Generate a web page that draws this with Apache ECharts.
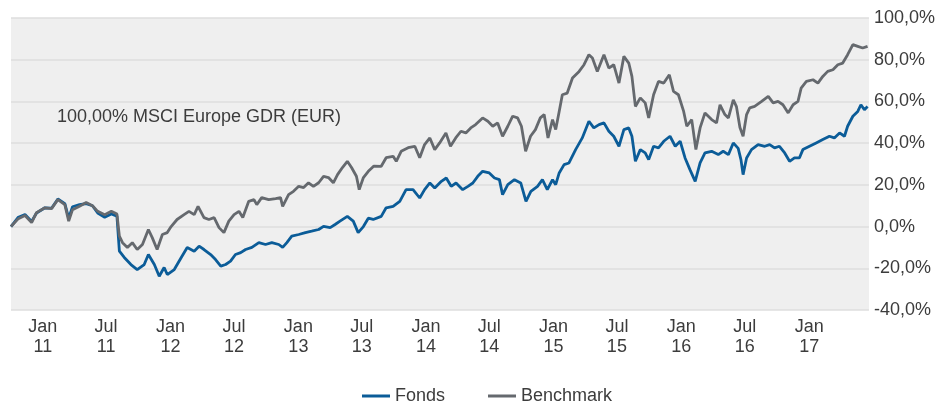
<!DOCTYPE html>
<html>
<head>
<meta charset="utf-8">
<script src="https://cdn.jsdelivr.net/npm/echarts@6/dist/echarts.min.js"></script>
<style>
  html, body { margin: 0; padding: 0; background: #ffffff; }
  #chart { width: 938px; height: 403px; }
</style>
</head>
<body>
<div id="chart"></div>
<script>
// Cumulative performance in percent, Fonds vs. Benchmark
const fondsDates = [
  '2010-10-02','2010-10-23','2010-11-11','2010-11-30','2010-12-14','2011-01-07','2011-01-26','2011-02-13',
  '2011-03-05','2011-03-16','2011-03-27','2011-04-16','2011-05-05','2011-05-23','2011-06-07','2011-06-27',
  '2011-07-16','2011-08-01','2011-08-08','2011-08-22','2011-09-10','2011-09-28','2011-10-18','2011-10-30',
  '2011-11-16','2011-11-30','2011-12-14','2011-12-23','2012-01-12','2012-02-01','2012-02-18','2012-02-23',
  '2012-03-09','2012-03-23','2012-04-06','2012-04-25','2012-05-09','2012-05-24','2012-06-07','2012-06-21',
  '2012-07-05','2012-07-20','2012-08-03','2012-08-21','2012-09-10','2012-09-29','2012-10-17','2012-11-06',
  '2012-11-17','2012-11-29','2012-12-13','2013-01-02','2013-01-21','2013-02-08','2013-02-28','2013-03-14',
  '2013-04-02','2013-04-16','2013-04-30','2013-05-21','2013-06-07','2013-06-21','2013-07-06','2013-07-20',
  '2013-08-03','2013-08-26','2013-09-09','2013-09-29','2013-10-18','2013-11-05','2013-11-25','2013-12-14',
  '2013-12-28','2014-01-12','2014-01-26','2014-02-14','2014-02-28','2014-03-14','2014-03-28','2014-04-16',
  '2014-05-01','2014-05-15','2014-05-29','2014-06-12','2014-07-01','2014-07-16','2014-07-30','2014-08-08',
  '2014-08-23','2014-09-11','2014-09-29','2014-10-14','2014-10-28','2014-11-16','2014-11-30','2014-12-14',
  '2014-12-29','2015-01-07','2015-01-17','2015-01-31','2015-02-14','2015-03-05','2015-03-24','2015-04-12',
  '2015-04-26','2015-05-11','2015-05-25','2015-06-08','2015-06-22','2015-07-07','2015-07-21','2015-08-04',
  '2015-08-13','2015-08-23','2015-09-06','2015-09-20','2015-09-30','2015-10-14','2015-10-28','2015-11-12',
  '2015-11-30','2015-12-15','2015-12-29','2016-01-12','2016-01-26','2016-02-10','2016-02-24','2016-03-09',
  '2016-03-28','2016-04-16','2016-04-30','2016-05-15','2016-05-29','2016-06-12','2016-06-20','2016-06-26',
  '2016-07-06','2016-07-20','2016-08-08','2016-08-27','2016-09-10','2016-09-24','2016-10-08','2016-10-23',
  '2016-11-06','2016-11-20','2016-12-04','2016-12-14','2017-01-02','2017-01-21','2017-02-09','2017-02-28',
  '2017-03-14','2017-03-29','2017-04-12','2017-04-21','2017-05-06','2017-05-20','2017-05-29','2017-06-08',
  '2017-06-17'
];
const fondsValues = [
  0.0, 4.5, 5.8, 2.5, 6.5, 9.0, 8.8, 13.2,
  11.0, 4.0, 9.5, 10.5, 11.0, 10.0, 6.5, 4.5,
  6.0, 5.0, -11.8, -14.8, -18.2, -20.6, -18.2, -13.4,
  -18.2, -23.8, -19.6, -23.0, -20.6, -14.8, -10.0, -9.4,
  -11.8, -9.4, -11.0, -13.4, -15.8, -19.0, -18.2, -16.6,
  -13.4, -12.5, -11.0, -10.0, -7.7, -8.6, -7.7, -8.6,
  -10.0, -7.7, -4.6, -3.8, -2.9, -2.2, -1.4, 0.1,
  -0.5, 1.0, 2.6, 4.9, 2.6, -2.9, 0.0, 4.0,
  3.4, 4.9, 9.0, 9.7, 12.1, 17.7, 17.7, 13.7,
  17.7, 20.9, 18.5, 21.7, 23.3, 19.3, 20.9, 17.7,
  19.3, 20.9, 24.1, 26.5, 25.7, 23.3, 22.5, 15.3,
  20.1, 22.5, 20.9, 12.1, 16.9, 19.3, 22.5, 17.7,
  22.5, 20.1, 25.7, 29.7, 30.5, 36.9, 42.5, 50.5,
  47.3, 48.9, 49.7, 45.7, 43.3, 38.5, 46.5, 47.3,
  43.3, 31.3, 36.9, 35.3, 32.1, 38.5, 37.7, 40.9,
  43.3, 38.5, 40.9, 32.9, 27.3, 21.7, 30.5, 35.3,
  36.1, 34.5, 36.1, 34.5, 40.1, 37.5, 32.0, 24.9,
  32.9, 36.9, 39.3, 38.5, 39.3, 37.7, 38.5, 35.3,
  31.3, 32.9, 32.9, 36.9, 38.5, 40.1, 41.7, 43.3,
  42.5, 44.9, 43.3, 48.1, 52.9, 55.2, 58.4, 56.0,
  57.6
];

const benchDates = [
  '2010-10-02','2010-10-23','2010-11-11','2010-11-30','2010-12-14','2011-01-07','2011-01-26','2011-02-13',
  '2011-03-05','2011-03-16','2011-03-27','2011-04-16','2011-05-05','2011-05-23','2011-06-07','2011-06-27',
  '2011-07-16','2011-08-01','2011-08-08','2011-08-17','2011-08-31','2011-09-14','2011-09-28','2011-10-13',
  '2011-10-30','2011-11-10','2011-11-24','2011-12-09','2011-12-23','2012-01-03','2012-01-20','2012-02-09',
  '2012-02-23','2012-03-09','2012-03-20','2012-04-06','2012-04-20','2012-05-05','2012-05-19','2012-06-02',
  '2012-06-16','2012-07-01','2012-07-15','2012-07-26','2012-08-12','2012-08-27','2012-09-04','2012-09-18',
  '2012-10-08','2012-10-28','2012-11-11','2012-11-17','2012-12-04','2012-12-18','2013-01-02','2013-01-16',
  '2013-01-30','2013-02-13','2013-02-28','2013-03-14','2013-03-28','2013-04-11','2013-04-23','2013-05-07',
  '2013-05-21','2013-06-02','2013-06-16','2013-06-24','2013-07-06','2013-07-20','2013-08-05','2013-08-26',
  '2013-09-09','2013-09-29','2013-10-08','2013-10-22','2013-11-11','2013-11-30','2013-12-14','2013-12-28',
  '2014-01-12','2014-01-26','2014-02-09','2014-02-27','2014-03-12','2014-03-27','2014-04-11','2014-04-25',
  '2014-05-09','2014-05-23','2014-06-12','2014-06-27','2014-07-11','2014-07-25','2014-08-08','2014-08-23',
  '2014-09-06','2014-09-20','2014-10-01','2014-10-13','2014-10-27','2014-11-10','2014-11-24','2014-12-05',
  '2014-12-16','2014-12-29','2015-01-07','2015-01-17','2015-01-26','2015-02-09','2015-02-24','2015-03-15',
  '2015-03-29','2015-04-12','2015-04-22','2015-05-06','2015-05-25','2015-06-08','2015-06-22','2015-07-07',
  '2015-07-21','2015-08-04','2015-08-13','2015-08-23','2015-09-06','2015-09-20','2015-09-30','2015-10-14',
  '2015-10-28','2015-11-12','2015-11-28','2015-12-10','2015-12-24','2016-01-08','2016-01-17','2016-01-31',
  '2016-02-12','2016-02-24','2016-03-09','2016-03-28','2016-04-11','2016-04-21','2016-05-05','2016-05-15',
  '2016-05-29','2016-06-07','2016-06-17','2016-06-26','2016-07-06','2016-07-15','2016-07-29','2016-08-18',
  '2016-09-06','2016-09-20','2016-10-04','2016-10-18','2016-11-02','2016-11-16','2016-11-30','2016-12-09',
  '2016-12-24','2017-01-12','2017-01-26','2017-02-09','2017-02-23','2017-03-10','2017-03-24','2017-04-07',
  '2017-04-21','2017-05-06','2017-05-20','2017-06-03','2017-06-17'
];
const benchValues = [
  0.0, 3.8, 5.3, 1.9, 6.7, 9.0, 8.6, 12.9,
  10.5, 2.6, 8.1, 9.7, 11.5, 10.0, 7.3, 5.7,
  7.3, 6.0, -4.6, -7.7, -10.0, -7.7, -11.0, -8.6,
  -1.4, -5.3, -11.0, -3.8, -2.9, 0.0, 3.4, 5.7,
  7.3, 5.7, 9.7, 4.3, 3.4, 4.3, -0.5, -2.9,
  2.6, 5.7, 7.3, 4.3, 12.1, 12.9, 10.5, 13.9,
  12.9, 13.4, 13.9, 9.7, 15.3, 16.9, 19.3, 18.7,
  21.0, 19.3, 21.0, 24.1, 23.5, 21.0, 24.9, 28.3,
  31.3, 28.3, 24.1, 17.7, 23.5, 26.5, 29.0, 28.9,
  33.0, 33.7, 31.3, 36.1, 37.8, 38.5, 33.0, 39.3,
  42.5, 36.9, 40.1, 44.9, 38.5, 42.5, 45.7, 44.9,
  47.3, 48.9, 52.1, 50.5, 48.1, 49.7, 43.3, 48.1,
  52.9, 52.1, 48.1, 36.1, 43.3, 46.5, 52.1, 53.7,
  42.5, 51.3, 46.5, 55.2, 63.2, 64.0, 71.2, 74.4,
  77.6, 82.4, 80.8, 74.4, 82.4, 76.0, 77.6, 68.8,
  81.6, 78.4, 72.0, 57.6, 61.7, 59.3, 52.1, 63.2,
  69.6, 68.8, 72.8, 64.8, 63.2, 55.2, 48.1, 51.3,
  36.9, 47.3, 54.5, 51.3, 49.7, 58.4, 53.7, 52.1,
  60.8, 57.5, 47.5, 43.3, 53.7, 56.9, 57.6, 60.0,
  62.4, 59.3, 60.0, 58.4, 54.5, 58.4, 60.0, 66.4,
  69.6, 70.4, 68.8, 72.0, 74.4, 75.2, 77.6, 78.4,
  82.4, 87.2, 86.4, 85.6, 86.4
];

// Half-yearly axis labels
const tickDates = [
  '2011-01-01','2011-07-01','2012-01-01','2012-07-01','2013-01-01','2013-07-01','2014-01-01',
  '2014-07-01','2015-01-01','2015-07-01','2016-01-01','2016-07-01','2017-01-01'
];
const monthNames = ['Jan','Feb','Mär','Apr','Mai','Jun','Jul','Aug','Sep','Okt','Nov','Dez'];

const axisStart = '2010-10-02';
const axisEnd = '2017-06-21';
const benchmarkNote = '100,00% MSCI Europe GDR (EUR)';

const toTime = s => {
  const p = s.split('-').map(Number);
  return new Date(p[0], p[1] - 1, p[2]).getTime();
};
const zip = (dates, values) => dates.map((d, i) => [toTime(d), values[i]]);

const FONT = 'Liberation Sans, Arial, sans-serif';
const TEXT = '#3c3c3c';

const chart = echarts.init(document.getElementById('chart'), null, { renderer: 'canvas' });
chart.setOption({
  animation: false,
  backgroundColor: '#ffffff',
  textStyle: { fontFamily: FONT },
  grid: {
    left: 11, right: 65, top: 18, bottom: 93,
    show: true, backgroundColor: '#efefef', borderWidth: 0
  },
  xAxis: {
    // dates are plotted as timestamps on a linear axis
    type: 'value',
    min: toTime(axisStart),
    max: toTime(axisEnd),
    axisLine: { show: false },
    axisTick: { show: false },
    splitLine: { show: false },
    axisLabel: {
      customValues: tickDates.map(toTime),
      margin: 7,
      fontSize: 18,
      lineHeight: 20,
      color: TEXT,
      fontFamily: FONT,
      showMinLabel: true,
      showMaxLabel: true,
      hideOverlap: false,
      formatter: v => {
        const d = new Date(v);
        return monthNames[d.getMonth()] + '\n' + String(d.getFullYear()).slice(2);
      }
    }
  },
  yAxis: {
    type: 'value',
    position: 'right',
    min: -40, max: 100, interval: 20,
    axisLine: { show: false },
    axisTick: { show: false },
    splitLine: { show: true, lineStyle: { color: '#dedede', width: 1.5 } },
    axisLabel: {
      margin: 5,
      fontSize: 18,
      color: TEXT,
      fontFamily: FONT,
      formatter: v => v.toFixed(1).replace('.', ',') + '%'
    }
  },
  legend: {
    left: 357, top: 382,
    icon: 'rect', itemWidth: 28, itemHeight: 3, itemGap: 43,
    textStyle: { fontSize: 18, color: TEXT, fontFamily: FONT },
    data: ['Fonds', 'Benchmark']
  },
  graphic: [{
    type: 'text', left: 57, top: 108,
    style: { text: benchmarkNote, font: '18px ' + FONT, fill: TEXT }
  }],
  series: [
    {
      name: 'Fonds', type: 'line', showSymbol: false, symbol: 'none',
      color: '#0b5c98',
      lineStyle: { width: 2.8, color: '#0b5c98' },
      data: zip(fondsDates, fondsValues)
    },
    {
      name: 'Benchmark', type: 'line', showSymbol: false, symbol: 'none',
      color: '#65696e',
      lineStyle: { width: 2.8, color: '#65696e' },
      data: zip(benchDates, benchValues)
    }
  ]
});
</script>
</body>
</html>
